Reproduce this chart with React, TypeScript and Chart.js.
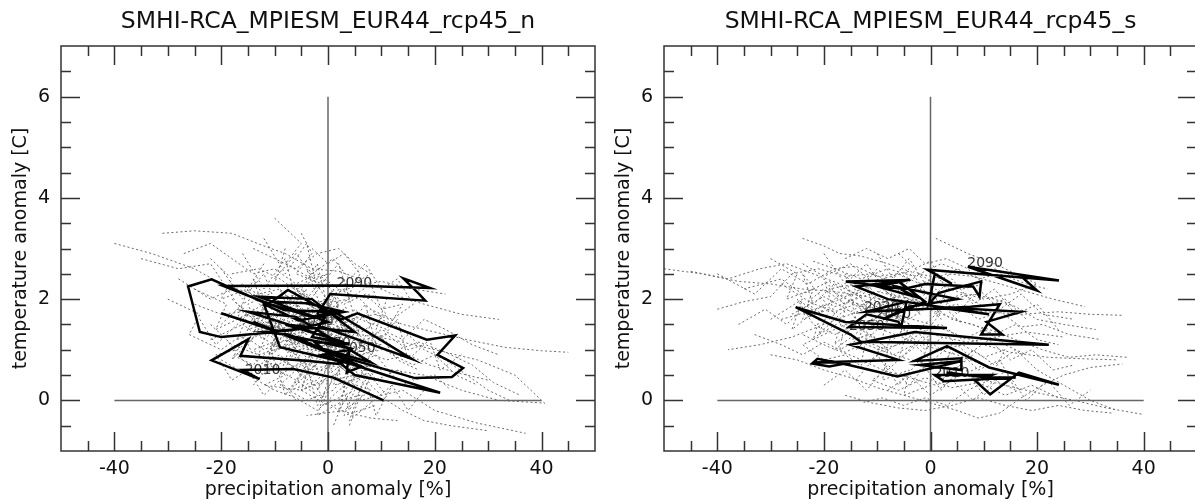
import React, { useEffect, useRef } from 'react';
import { Chart, registerables } from 'chart.js';

Chart.register(...registerables);

const xTickLabels = [-40, -20, 0, 20, 40];
const yTickLabels = [0, 2, 4, 6];

const titleN = 'SMHI-RCA_MPIESM_EUR44_rcp45_n';
const titleS = 'SMHI-RCA_MPIESM_EUR44_rcp45_s';

// cross lines (axes at zero)
const zeroVertical = [[0, -1], [0, 6]];
const zeroHorizontal = [[-40, 0], [40, 0]];

// thick trajectory, panel n
const pathN = [
  [10.4, 0.0], [1.0, 0.45], [-6.5, 0.62], [-16.0, 0.6], [-12.8, 0.42], [-21.8, 0.79],
  [-14.9, 1.21], [-16.4, 0.88], [-3.5, 0.78], [2.0, 0.72], [4.5, 1.02], [-6.0, 1.25],
  [-20.0, 1.72], [-5.0, 1.2], [6.0, 0.68], [-9.0, 1.05], [-12.0, 1.9], [-5.5, 1.58],
  [3.0, 1.75], [-4.0, 1.92], [-10.5, 1.95], [-7.5, 2.18], [2.5, 1.6], [5.5, 1.72],
  [18.5, 1.2], [23.8, 1.28], [20.5, 0.9], [25.3, 0.64], [23.2, 0.46], [16.3, 0.44],
  [3.0, 0.85], [-8.0, 1.3], [-12.0, 1.35], [-1.0, 1.45], [15.7, 0.82], [0.4, 1.8],
  [-3.0, 1.25], [4.0, 1.12], [-2.5, 1.15], [5.0, 0.5], [21.0, 0.15], [-1.0, 0.9],
  [4.0, 1.0], [3.5, 0.55], [6.3, 0.67], [-14.0, 1.55], [-2.0, 1.05], [8.0, 0.75],
  [-6.0, 1.65], [-15.0, 1.75], [3.0, 1.15], [-8.0, 1.5], [5.0, 1.35], [-3.0, 2.0],
  [-13.0, 2.05], [0.0, 1.55], [-6.0, 1.4], [-10.0, 1.35], [-20.0, 1.25], [-24.0, 1.35],
  [-26.2, 2.25], [-21.8, 2.39], [-12.4, 1.95], [-3.0, 1.65], [1.0, 1.75], [-8.0, 1.78],
  [-19.6, 2.26], [4.0, 2.27], [19.1, 2.22], [14.1, 2.41], [16.9, 2.12], [18.2, 1.97],
  [0.4, 2.1], [-2.0, 1.7],
];

// thick trajectory, panel s
const pathS = [
  [3.0, 0.55], [10.5, 0.45], [16.0, 0.45], [2.5, 0.38], [0.8, 0.5], [11.5, 0.5],
  [8.5, 0.38], [11.2, 0.12], [16.6, 0.55], [24.1, 0.31], [11.0, 0.65], [3.1, 1.07],
  [-3.0, 0.78], [5.8, 0.83], [5.8, 0.6], [-2.0, 0.7], [6.0, 0.78], [-6.2, 0.47],
  [-15.3, 0.7], [-21.2, 0.82], [-22.2, 0.73], [-19.0, 0.67], [-15.0, 0.75], [-22.0, 0.75],
  [-6.0, 0.8], [-15.0, 1.1], [-3.0, 1.35], [22.2, 1.1], [-13.1, 1.16], [-15.0, 1.3],
  [-25.3, 1.84], [-16.0, 1.55], [3.1, 1.43], [-15.3, 1.45], [-12.0, 1.7], [-6.0, 1.55],
  [-5.5, 1.45], [-4.5, 1.95], [-12.0, 1.75], [-2.0, 1.8], [7.5, 1.85], [13.0, 1.9],
  [9.5, 1.3], [13.5, 1.3], [10.5, 1.55], [17.0, 1.75], [0.5, 1.85], [11.0, 1.7],
  [-8.0, 2.0], [-14.0, 2.25], [-6.0, 2.35], [-1.0, 1.95], [-9.0, 1.6], [-4.0, 1.85],
  [5.0, 2.0], [-6.5, 2.25], [-3.0, 2.05], [-10.0, 2.25], [-3.8, 2.38], [-15.9, 2.35],
  [-5.0, 2.2], [-1.0, 2.3], [8.0, 2.25], [9.2, 2.05], [9.5, 2.35], [1.5, 2.12],
  [-0.3, 1.9], [0.8, 2.5], [4.0, 2.3], [-0.6, 2.58], [24.1, 2.37], [7.0, 2.64],
  [20.0, 2.17], [17.0, 2.45],
];

// year labels [text, x, y]
const yearLabelsN = [
  ['2010', -15.6, 0.6], ['2030', -5.6, 1.56], ['2070', -2.4, 1.13],
  ['2050', 2.25, 1.03], ['2090', 1.6, 2.32],
];
const yearLabelsS = [
  ['2090', 6.9, 2.71], ['2030', -12.5, 1.84], ['2070', -10.3, 1.69],
  ['2050', -15.3, 1.47], ['2010', 0.6, 0.54],
];

// dotted ensemble cloud, panel n
const cloudN1 = [[-40, 3.1], [-33, 2.9], [-25, 2.6], [-20, 2.3], [-14, 2.1], [-9, 1.8], [-4, 1.7], [1, 1.5], [6, 1.3], [12, 1.2], [20, 1.0], [28, 0.8], [35, 0.5], [41, -0.1]];
const cloudN2 = [[-31, 3.3], [-25, 3.35], [-18, 3.3], [-12, 3.05], [-8, 2.9], [-3, 2.6], [2, 2.55], [6, 2.4], [12, 2.1], [18, 1.9], [25, 1.7], [32, 1.6]];
const cloudN3 = [[-10, 3.6], [-7, 3.3], [-5, 3.1], [-8, 2.7], [-3, 2.4], [0, 2.5], [-6, 2.2], [-2, 1.9], [4, 2.0], [-4, 1.6], [2, 1.4], [-9, 1.3], [-3, 1.0], [5, 0.9], [0, 0.5], [8, 0.2], [3, -0.2], [-4, -0.3]];
const cloudN4 = [[-28, 2.4], [-22, 2.0], [-16, 2.3], [-12, 1.8], [-15, 1.4], [-9, 1.6], [-10, 1.1], [-5, 1.3], [-7, 0.8], [-1, 1.1], [-3, 0.6], [3, 0.8], [1, 0.3], [8, 0.5], [6, 0.0], [14, 0.2], [20, -0.2], [28, -0.45], [37, -0.65]];
const cloudN5 = [[-22, 1.5], [-18, 1.1], [-13, 0.9], [-8, 0.5], [-12, 0.3], [-5, 0.2], [0, -0.1], [-6, 0.9], [-1, 1.3], [4, 1.6], [9, 1.7], [14, 1.5], [20, 1.35], [26, 1.2], [33, 1.05], [40, 0.98], [45, 0.95]];
const cloudN6 = [[-18, 2.5], [-13, 2.6], [-9, 2.4], [-5, 2.1], [-10, 2.0], [-6, 1.8], [-1, 1.7], [3, 1.8], [-2, 1.4], [4, 1.2], [10, 1.1], [6, 0.7], [12, 0.6], [18, 0.5], [25, 0.2], [32, 0.0], [40, -0.05]];
const cloudN7 = [[-14, 3.0], [-10, 2.8], [-6, 2.6], [-2, 2.9], [2, 3.0], [5, 2.7], [8, 2.5], [3, 2.2], [0, 2.0], [-5, 1.5], [-9, 1.2], [-14, 1.0], [-11, 0.7], [-6, 0.4], [-2, 0.1], [2, -0.2], [8, -0.35], [13, -0.4]];
const cloudN8 = [[-35, 2.8], [-28, 2.6], [-22, 2.7], [-17, 1.9], [-13, 1.6], [-8, 1.4], [-4, 1.2], [0, 0.9], [3, 0.6], [7, 0.95], [11, 0.8], [15, 0.9], [19, 0.7], [24, 0.55], [30, 0.4]];
const cloudN9 = [[-20, 0.8], [-15, 0.5], [-10, 0.2], [-6, 0.05], [-2, -0.2], [2, 0.2], [5, 0.4], [1, 0.8], [-3, 1.05], [-7, 1.2], [-11, 1.45], [-7, 1.65], [-3, 1.85], [1, 2.1], [5, 2.25], [10, 2.35], [16, 2.2], [22, 2.1]];
const cloudN10 = [[-25, 1.9], [-20, 1.7], [-16, 1.75], [-12, 1.5], [-7, 1.35], [-3, 1.55], [1, 1.65], [5, 1.4], [9, 1.3], [13, 1.0], [17, 1.15], [22, 0.95], [27, 0.7], [31, 0.35], [36, 0.1]];
const cloudN11 = [[-18, 2.0], [-10, 1.2], [-14, 2.4], [-6, 1.0], [-12, 1.8], [-2, 0.6], [-8, 2.1], [2, 0.9], [-4, 2.6], [4, 1.3], [-6, 1.6], [6, 0.4], [0, 1.9], [8, 1.0], [-2, 1.2], [10, 0.6]];
const cloudN12 = [[-22, 1.2], [-14, 1.6], [-18, 0.8], [-8, 1.9], [-12, 0.6], [-4, 2.2], [-10, 1.4], [0, 1.6], [-6, 0.3], [2, 1.2], [-2, 0.2], [6, 1.5], [2, -0.2], [8, 0.8], [4, -0.4], [12, 0.3]];
const cloudN13 = [[-16, 2.9], [-12, 2.2], [-8, 2.8], [-6, 2.0], [-2, 2.7], [0, 1.8], [3, 2.4], [5, 1.6], [1, 1.2], [-3, 1.8], [-7, 1.3], [-11, 1.7], [-15, 1.1], [-13, 0.7], [-9, 0.9], [-5, 0.5], [-1, 0.8], [3, 0.3], [7, 0.6], [11, 0.1]];
const cloudN14 = [[-25, 2.2], [-19, 1.9], [-21, 1.4], [-15, 1.7], [-17, 1.2], [-11, 1.5], [-13, 0.9], [-7, 1.1], [-9, 0.5], [-3, 0.9], [-5, 0.2], [1, 0.5], [-1, -0.1], [5, 0.2], [3, -0.3], [9, -0.1]];
const cloudN15 = [[-12, 3.2], [-8, 2.5], [-4, 3.1], [-2, 2.2], [2, 2.7], [4, 2.0], [8, 2.3], [10, 1.8], [14, 1.9], [11, 1.4], [6, 1.6], [2, 1.1], [-2, 1.4], [-6, 0.9], [-10, 1.1], [-14, 0.7], [-18, 0.9]];
const cloudN16 = [[-20, 2.6], [-16, 2.0], [-12, 2.5], [-9, 1.7], [-5, 2.3], [-3, 1.5], [1, 2.2], [3, 1.3], [7, 1.9], [9, 1.1], [13, 1.6], [15, 0.8], [19, 1.2], [21, 0.6], [25, 0.9]];
const cloudN17 = [[-14, 0.3], [-10, 0.8], [-8, 0.1], [-4, 0.7], [-2, -0.1], [2, 0.6], [4, -0.2], [7, 0.4], [9, -0.3], [12, 0.3], [15, -0.2], [18, 0.2]];
const cloudN18 = [[-8, 1.5], [-4, 1.3], [-6, 1.9], [-2, 1.6], [-4, 2.1], [0, 1.4], [2, 1.9], [-1, 1.0], [3, 1.1], [1, 0.7], [-3, 0.5], [-7, 0.7], [-11, 0.9], [-9, 1.3], [-13, 1.4], [-15, 1.9], [-11, 2.1]];
const cloudN19 = [[-30, 2.0], [-24, 1.7], [-26, 1.3], [-20, 1.0], [-16, 1.3], [-12, 1.0], [-8, 1.2], [-4, 1.0], [0, 1.2], [4, 0.9], [8, 1.2], [12, 0.9], [16, 0.7], [20, 0.9], [24, 0.5], [28, 0.3]];
const cloudN20 = [[-5, 3.3], [-3, 2.9], [-6, 2.5], [-1, 2.3], [-4, 1.9], [1, 2.0], [-1, 1.5], [3, 1.6], [0, 1.0], [4, 1.0], [1, 0.4], [5, 0.5], [2, 0.0], [6, 0.1], [4, -0.5]];
const cloudN21 = [[-22, 2.8], [-18, 2.4], [-20, 2.0], [-15, 2.2], [-17, 1.6], [-12, 1.9], [-14, 1.3], [-9, 1.5], [-11, 0.9], [-6, 1.2], [-8, 0.6], [-3, 0.8], [-5, 0.2], [0, 0.4], [-2, -0.3], [3, 0.0], [1, -0.5]];
const cloudN22 = [[-10, 2.4], [-6, 2.9], [-3, 2.5], [1, 2.8], [4, 2.4], [7, 2.7], [10, 2.2], [13, 2.4], [16, 1.9], [12, 1.6], [8, 1.8], [4, 1.4], [0, 1.7], [-4, 1.3], [-8, 1.6], [-12, 1.2], [-16, 1.5]];
const cloudN23 = [[-6, 0.0], [-9, 0.4], [-12, 0.1], [-15, 0.6], [-18, 0.4], [-21, 0.9], [-17, 1.0], [-13, 1.3], [-9, 1.0], [-5, 1.5], [-1, 1.2], [3, 1.5], [7, 1.2], [11, 1.3], [15, 1.0], [18, 1.1]];
const cloudN24 = [[-27, 2.9], [-22, 3.1], [-18, 2.8], [-14, 2.5], [-10, 2.6], [-6, 2.3], [-2, 2.5], [2, 2.2], [6, 2.0], [10, 1.6], [14, 1.4], [18, 1.0], [22, 0.8], [26, 0.5], [30, 0.2], [34, 0.0]];
const cloudN25 = [[-16, 1.0], [-13, 1.5], [-10, 1.9], [-7, 2.3], [-4, 2.0], [-1, 2.4], [2, 2.0], [0, 1.3], [-3, 0.9], [-6, 0.6], [-9, 0.3], [-4, 0.0], [1, 0.2], [5, 0.7], [9, 0.9], [12, 0.5], [15, 0.3]];
const cloudN26 = [[-3, 3.0], [0, 2.7], [3, 2.9], [6, 2.5], [4, 2.1], [8, 2.0], [11, 1.7], [7, 1.4], [10, 1.0], [6, 0.9], [9, 0.4], [13, 0.6], [16, 0.4], [20, 0.5], [23, 0.2]];
const cloudN27 = [[-20, 1.5], [-16, 1.9], [-13, 2.1], [-9, 2.2], [-6, 1.4], [-2, 1.9], [1, 1.1], [5, 1.8], [8, 1.5], [4, 0.6], [0, 0.7], [-4, 0.4], [-8, 0.8], [-12, 0.5], [-16, 0.8], [-19, 1.2]];
const cloudN28 = [[-12, 2.7], [-15, 2.2], [-11, 2.0], [-7, 1.7], [-3, 1.4], [1, 1.0], [5, 0.8], [8, 0.3], [11, 0.0], [14, -0.2], [18, -0.4], [23, -0.5], [30, -0.6]];
const cloudN29 = [[-24, 1.6], [-21, 1.1], [-18, 1.4], [-14, 1.8], [-10, 1.6], [-6, 2.0], [-2, 1.8], [2, 1.6], [6, 1.1], [10, 1.4], [14, 1.2], [18, 1.6], [22, 1.4], [27, 1.1], [32, 0.9]];
const cloudN30 = [[-8, 3.0], [-10, 2.3], [-5, 1.8], [-8, 1.1], [-4, 0.7], [-7, 0.2], [-2, 0.4], [2, 0.9], [6, 1.3], [3, 1.9], [7, 2.1], [11, 2.0], [9, 1.4], [13, 0.8], [17, 0.6]];

// dotted ensemble cloud, panel s
const cloudS1 = [[-50, 2.6], [-43, 2.5], [-36, 2.35], [-30, 2.3], [-24, 2.2], [-18, 2.15], [-12, 2.05], [-7, 1.95], [-2, 1.85], [4, 1.8], [10, 1.75], [17, 1.7], [24, 1.75], [30, 1.7], [36, 1.68]];
const cloudS2 = [[-24, 3.2], [-20, 3.05], [-17, 2.9], [-13, 2.85], [-8, 2.7], [-4, 2.55], [-9, 2.4], [-14, 2.3], [-19, 2.2], [-15, 1.95], [-10, 1.8], [-5, 1.65], [0, 1.5], [5, 1.3], [10, 1.1], [15, 0.95], [22, 0.85], [29, 0.82], [35, 0.8]];
const cloudS3 = [[1, 3.2], [4, 3.05], [7, 2.9], [12, 2.7], [16, 2.5], [20, 2.3], [15, 2.1], [10, 2.0], [5, 2.15], [0, 2.35], [-5, 2.1], [-10, 1.9], [-15, 1.7], [-20, 1.5], [-26, 1.25], [-32, 1.1], [-38, 1.0]];
const cloudS4 = [[-40, 1.8], [-35, 1.95], [-30, 2.05], [-26, 2.5], [-21, 2.6], [-16, 2.45], [-11, 2.5], [-6, 2.3], [-1, 2.1], [-6, 1.75], [-11, 1.6], [-16, 1.4], [-12, 1.1], [-7, 0.9], [-2, 0.75], [3, 0.6], [8, 0.45], [14, 0.3], [20, 0.15], [27, 0.0], [33, -0.15], [40, -0.28]];
const cloudS5 = [[-30, 0.9], [-25, 0.8], [-20, 0.6], [-15, 0.45], [-10, 0.25], [-5, 0.1], [0, -0.05], [5, -0.2], [9, -0.35], [13, -0.25], [17, 0.05], [21, 0.3], [25, 0.5], [30, 0.65], [36, 0.72]];
const cloudS6 = [[-22, 2.75], [-18, 2.6], [-14, 2.65], [-10, 2.45], [-6, 2.5], [-2, 2.3], [3, 2.5], [8, 2.45], [13, 2.3], [18, 2.15], [23, 2.0], [29, 1.85]];
const cloudS7 = [[-18, 1.85], [-14, 2.0], [-10, 2.15], [-6, 2.05], [-2, 1.95], [-8, 1.75], [-12, 1.55], [-8, 1.35], [-4, 1.2], [0, 1.05], [5, 0.9], [10, 0.7], [6, 0.5], [1, 0.3], [-4, 0.45], [-9, 0.6], [-14, 0.85], [-19, 1.05], [-24, 1.3]];
const cloudS8 = [[-28, 1.6], [-23, 1.75], [-18, 1.95], [-13, 2.2], [-9, 2.3], [-4, 2.0], [1, 1.75], [6, 1.55], [11, 1.4], [16, 1.2], [21, 1.0], [26, 0.85], [31, 0.9], [37, 0.85]];
const cloudS9 = [[-16, 0.1], [-11, -0.05], [-6, -0.15], [-1, -0.2], [4, -0.1], [9, 0.05], [14, -0.1], [19, -0.2], [24, -0.1], [29, -0.2], [34, -0.25]];
const cloudS10 = [[-45, 2.55], [-38, 2.4], [-32, 2.6], [-27, 2.7], [-22, 2.5], [-17, 2.3], [-12, 1.95], [-7, 1.7], [-3, 1.45], [2, 1.25], [7, 1.15], [12, 1.25], [18, 1.35], [25, 1.25]];
const cloudS11 = [[-28, 2.3], [-22, 1.9], [-24, 2.5], [-18, 1.7], [-20, 2.4], [-14, 1.6], [-16, 2.5], [-10, 1.5], [-12, 2.3], [-6, 1.6], [-8, 2.4], [-2, 1.7], [-4, 2.2], [2, 1.6], [0, 2.1], [6, 1.5]];
const cloudS12 = [[-30, 1.6], [-24, 2.0], [-26, 1.4], [-20, 1.9], [-22, 1.2], [-16, 1.8], [-18, 1.1], [-12, 1.7], [-14, 1.0], [-8, 1.6], [-10, 0.9], [-4, 1.5], [-6, 0.8], [0, 1.3], [-2, 0.6], [4, 1.1], [2, 0.4], [8, 0.9]];
const cloudS13 = [[-20, 2.9], [-16, 2.3], [-12, 2.7], [-8, 2.1], [-4, 2.6], [0, 2.0], [4, 2.4], [8, 1.9], [12, 2.2], [16, 1.7], [20, 1.9], [24, 1.4]];
const cloudS14 = [[-14, 0.4], [-10, 0.9], [-6, 0.3], [-2, 0.8], [2, 0.2], [6, 0.7], [10, 0.1], [14, 0.6], [18, 0.0], [22, 0.4], [26, -0.1], [30, 0.2]];
const cloudS15 = [[-18, 1.0], [-13, 1.4], [-9, 1.1], [-5, 1.4], [-1, 1.0], [3, 1.3], [7, 0.9], [11, 1.2], [15, 0.8], [19, 1.0], [23, 0.6], [27, 0.7]];
const cloudS16 = [[-35, 2.2], [-28, 2.4], [-24, 2.1], [-19, 2.35], [-15, 2.05], [-10, 2.3], [-6, 1.95], [-2, 2.2], [2, 1.95], [6, 2.1], [10, 1.85], [14, 2.0], [18, 1.6]];
const cloudS17 = [[-10, 2.9], [-7, 2.4], [-4, 2.8], [-1, 2.3], [-5, 1.9], [-9, 2.2], [-13, 1.8], [-17, 2.1], [-21, 1.7], [-25, 2.0], [-22, 1.5], [-18, 1.3], [-14, 1.5], [-10, 1.2], [-6, 1.3]];
const cloudS18 = [[-8, 0.2], [-4, 0.5], [0, 0.1], [4, 0.4], [8, 0.0], [12, 0.4], [16, 0.2], [13, 0.8], [9, 0.6], [5, 1.0], [1, 0.7], [-3, 1.1], [-7, 0.9], [-11, 1.3], [-15, 1.2]];
const cloudS19 = [[-26, 1.7], [-20, 2.05], [-15, 1.75], [-11, 2.0], [-7, 1.8], [-3, 2.0], [1, 1.8], [5, 1.9], [9, 1.6], [13, 1.75], [17, 1.45], [21, 1.5], [26, 1.3], [32, 1.2]];
const cloudS20 = [[-40, 2.5], [-33, 2.1], [-28, 2.6], [-23, 2.3], [-18, 2.6], [-13, 2.4], [-8, 2.6], [-3, 2.45], [2, 2.7], [7, 2.5], [12, 2.6], [17, 2.4]];
const cloudS21 = [[-30, 2.8], [-25, 2.5], [-27, 2.0], [-22, 2.2], [-24, 1.6], [-19, 1.8], [-21, 1.3], [-16, 1.6], [-17, 1.0], [-12, 1.3], [-13, 0.7], [-8, 1.0], [-9, 0.4], [-4, 0.6], [-5, 0.1], [0, 0.3]];
const cloudS22 = [[-16, 2.8], [-12, 3.0], [-8, 2.8], [-4, 3.0], [-1, 2.7], [3, 2.8], [7, 2.6], [10, 2.3], [6, 2.2], [2, 2.4], [-2, 2.5], [-6, 2.2], [-10, 2.6], [-14, 2.1], [-18, 2.3], [-22, 1.9]];
const cloudS23 = [[-12, 0.6], [-16, 0.9], [-20, 0.8], [-24, 1.1], [-20, 1.3], [-16, 1.5], [-12, 1.4], [-8, 1.7], [-4, 1.6], [0, 1.9], [4, 1.6], [8, 1.5], [12, 1.3], [16, 1.5], [20, 1.2], [24, 1.1]];
const cloudS24 = [[-36, 1.5], [-31, 1.8], [-27, 1.5], [-23, 1.9], [-19, 1.6], [-15, 2.0], [-11, 1.7], [-7, 2.1], [-3, 1.8], [1, 2.2], [5, 1.7], [9, 2.2], [13, 1.8], [17, 2.1], [21, 1.7], [27, 1.6]];
const cloudS25 = [[-20, 0.3], [-16, 0.6], [-12, 0.2], [-8, 0.7], [-4, 0.3], [0, 0.8], [4, 0.5], [8, 1.0], [12, 0.7], [16, 1.0], [20, 0.6], [25, 0.3], [30, 0.0], [35, -0.2]];
const cloudS26 = [[-8, 1.9], [-12, 2.15], [-16, 1.9], [-20, 2.2], [-23, 1.95], [-18, 1.75], [-14, 1.9], [-10, 1.75], [-6, 1.6], [-2, 1.4], [2, 1.5], [6, 1.2], [10, 1.4], [14, 1.1], [18, 0.9]];
const cloudS27 = [[-24, 2.7], [-20, 2.45], [-15, 2.7], [-11, 2.35], [-7, 2.2], [-3, 2.55], [1, 2.3], [5, 2.6], [9, 2.4], [13, 2.5], [18, 2.3], [22, 2.2]];
const cloudS28 = [[-10, 1.0], [-6, 1.1], [-2, 1.3], [2, 1.0], [6, 1.1], [10, 0.85], [14, 1.0], [11, 0.4], [7, 0.2], [3, -0.1], [-1, 0.05], [-5, -0.1], [-9, 0.05], [-13, -0.05]];
const cloudS29 = [[-33, 1.3], [-28, 1.1], [-24, 0.9], [-20, 1.15], [-16, 0.95], [-12, 1.15], [-8, 1.0], [-4, 1.25], [0, 1.6], [4, 2.0], [8, 2.1], [12, 2.0], [16, 1.85], [20, 1.6], [25, 1.5], [31, 1.4]];
const cloudS30 = [[-6, 2.9], [-3, 2.6], [0, 2.75], [3, 2.2], [1, 1.6], [-2, 1.2], [-5, 0.9], [-8, 0.6], [-11, 0.4], [-6, 0.2], [-1, 0.45], [4, 0.25], [9, 0.35], [14, 0.1], [19, 0.3], [24, 0.05]];

const cloudsN = [cloudN1, cloudN2, cloudN3, cloudN4, cloudN5, cloudN6, cloudN7, cloudN8, cloudN9, cloudN10,
  cloudN11, cloudN12, cloudN13, cloudN14, cloudN15, cloudN16, cloudN17, cloudN18, cloudN19, cloudN20,
  cloudN21, cloudN22, cloudN23, cloudN24, cloudN25, cloudN26, cloudN27, cloudN28, cloudN29, cloudN30];
const cloudsS = [cloudS1, cloudS2, cloudS3, cloudS4, cloudS5, cloudS6, cloudS7, cloudS8, cloudS9, cloudS10,
  cloudS11, cloudS12, cloudS13, cloudS14, cloudS15, cloudS16, cloudS17, cloudS18, cloudS19, cloudS20,
  cloudS21, cloudS22, cloudS23, cloudS24, cloudS25, cloudS26, cloudS27, cloudS28, cloudS29, cloudS30];

const FONT = '"DejaVu Sans", Verdana, sans-serif';

const toPts = (arr: number[][]) => arr.map(([x, y]) => ({ x, y }));

const framePlugin = {
  id: 'frame',
  beforeDatasetsDraw(chart: any, _a: any, opts: any) {
    const { ctx, scales } = chart;
    ctx.save();
    ctx.fillStyle = '#333';
    ctx.font = `14px ${FONT}`;
    ctx.textAlign = 'left';
    ctx.textBaseline = 'middle';
    for (const [t, x, y] of opts.labels) {
      ctx.fillText(t, scales.x.getPixelForValue(x), scales.y.getPixelForValue(y));
    }
    ctx.restore();
  },
  afterDraw(chart: any, _a: any, opts: any) {
    const { ctx, chartArea: a, scales } = chart;
    const sx = scales.x;
    const sy = scales.y;
    ctx.save();
    ctx.strokeStyle = '#333';
    ctx.lineWidth = 1.5;
    ctx.strokeRect(a.left, a.top, a.right - a.left, a.bottom - a.top);
    ctx.beginPath();
    for (let i = -9; i <= 9; i++) {
      const v = i * 5;
      const px = Math.round(sx.getPixelForValue(v)) + 0.5;
      const len = v % 20 === 0 ? 19 : 10;
      ctx.moveTo(px, a.top);
      ctx.lineTo(px, a.top + len);
      ctx.moveTo(px, a.bottom);
      ctx.lineTo(px, a.bottom - len);
    }
    for (let i = -1; i <= 13; i++) {
      const v = i * 0.5;
      const py = Math.round(sy.getPixelForValue(v)) + 0.5;
      const len = i % 4 === 0 ? 19 : 10;
      ctx.moveTo(a.left, py);
      ctx.lineTo(a.left + len, py);
      ctx.moveTo(a.right, py);
      ctx.lineTo(a.right - len, py);
    }
    ctx.stroke();
    ctx.fillStyle = '#111';
    ctx.font = `23.5px ${FONT}`;
    ctx.textAlign = 'center';
    ctx.textBaseline = 'middle';
    ctx.fillText(opts.title, (a.left + a.right) / 2, 22);
    ctx.restore();
  },
};

function makeConfig(path: number[][], clouds: number[][][], labels: any[], title: string, padLeft: number, padRight: number) {
  const datasets: any[] = [
    {
      data: toPts(path),
      showLine: true,
      borderColor: '#000',
      borderWidth: 2.5,
      pointRadius: 0,
      borderJoinStyle: 'miter',
      order: 0,
    },
    {
      data: toPts(zeroVertical),
      showLine: true,
      borderColor: '#666',
      borderWidth: 1.5,
      pointRadius: 0,
      order: 1,
    },
    {
      data: toPts(zeroHorizontal),
      showLine: true,
      borderColor: '#666',
      borderWidth: 1.5,
      pointRadius: 0,
      order: 1,
    },
  ];
  clouds.forEach((c) =>
    datasets.push({
      data: toPts(c),
      showLine: true,
      borderColor: '#6a6a6a',
      borderWidth: 1,
      borderDash: [2, 2.5],
      pointRadius: 0,
      order: 2,
    })
  );
  return {
    type: 'scatter' as const,
    data: { datasets },
    options: {
      animation: false,
      responsive: false,
      events: [],
      layout: { padding: { left: padLeft, right: padRight, top: 46, bottom: 0 } },
      plugins: {
        legend: { display: false },
        tooltip: { enabled: false },
        frame: { title, labels },
      },
      scales: {
        x: {
          type: 'linear',
          min: -50,
          max: 50,
          afterBuildTicks: (s: any) => {
            s.ticks = xTickLabels.map((v) => ({ value: v }));
          },
          afterFit: (s: any) => {
            s.height = 50;
          },
          grid: { display: false, drawTicks: false },
          border: { display: false },
          ticks: {
            padding: 7,
            color: '#111',
            font: { family: FONT, size: 19 },
            maxRotation: 0,
            autoSkip: false,
          },
          title: {
            display: true,
            text: 'precipitation anomaly [%]',
            color: '#111',
            font: { family: FONT, size: 19 },
            padding: { top: 0, bottom: 0 },
          },
        },
        y: {
          type: 'linear',
          min: -1,
          max: 7,
          afterBuildTicks: (s: any) => {
            s.ticks = yTickLabels.map((v) => ({ value: v }));
          },
          afterFit: (s: any) => {
            s.width = 61;
          },
          grid: { display: false, drawTicks: false },
          border: { display: false },
          ticks: {
            padding: 11,
            color: '#111',
            font: { family: FONT, size: 19 },
            autoSkip: false,
          },
          title: {
            display: true,
            text: 'temperature anomaly [C]',
            color: '#111',
            font: { family: FONT, size: 19 },
            padding: { top: 10, bottom: 0 },
          },
        },
      },
    },
    plugins: [framePlugin],
  };
}

function Panel({ left, path, clouds, labels, title, padLeft, padRight }: any) {
  const ref = useRef<HTMLCanvasElement>(null);
  useEffect(() => {
    if (!ref.current) return;
    const chart = new Chart(ref.current, makeConfig(path, clouds, labels, title, padLeft, padRight) as any);
    return () => chart.destroy();
  }, []);
  return (
    <canvas
      ref={ref}
      width={600}
      height={501}
      style={{ position: 'absolute', left, top: 0, width: 600, height: 501 }}
    />
  );
}

export default function App() {
  return (
    <div
      style={{
        position: 'fixed',
        left: 0,
        top: 0,
        width: 1195,
        height: 501,
        overflow: 'hidden',
        background: '#fff',
      }}
    >
      <Panel left={0} path={pathN} clouds={cloudsN} labels={yearLabelsN} title={titleN} padLeft={0} padRight={5} />
      <Panel left={600} path={pathS} clouds={cloudsS} labels={yearLabelsS} title={titleS} padLeft={3} padRight={3} />
    </div>
  );
}
